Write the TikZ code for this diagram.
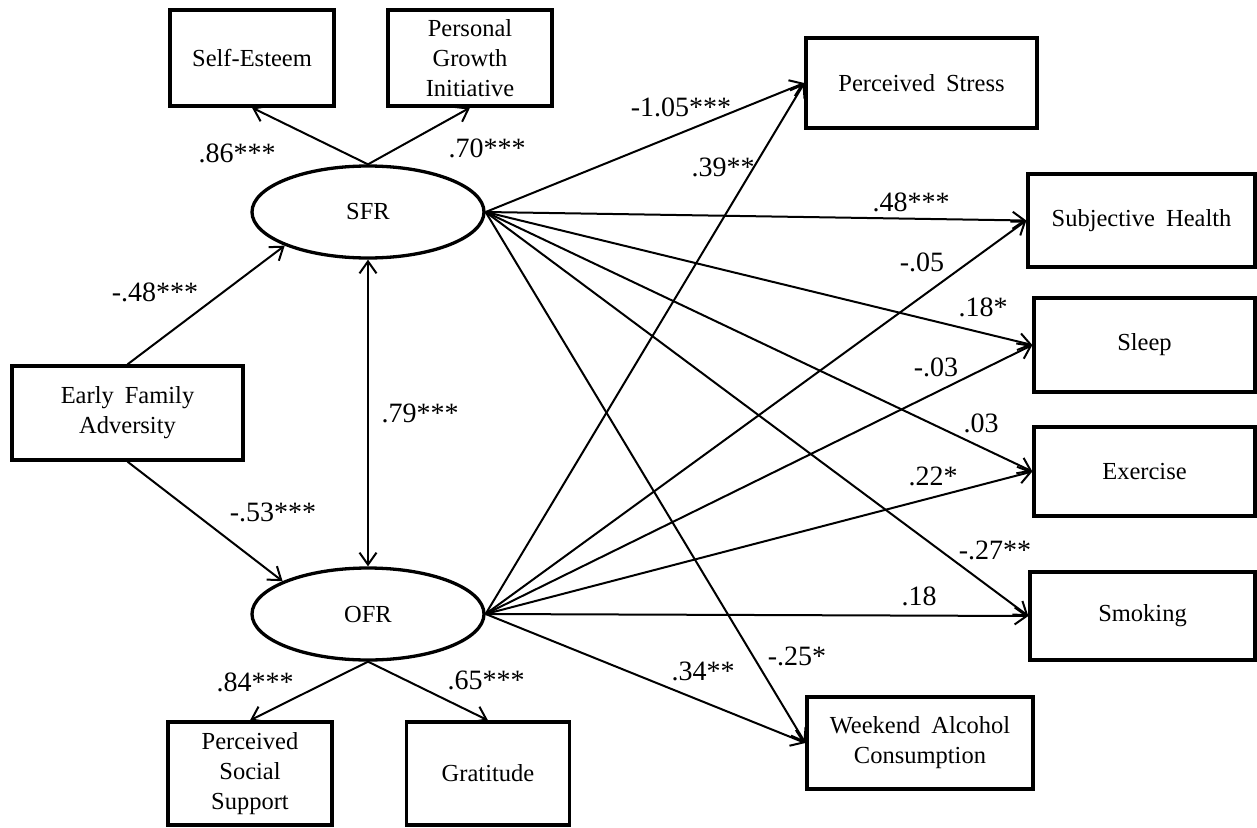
\documentclass[tikz,border=0pt]{standalone}
\usepackage{fontspec}
\setmainfont{Liberation Serif}
\usetikzlibrary{arrows.meta,shapes.geometric}
\newcommand\ws{\hspace{0.45em}}
\begin{document}
\begin{tikzpicture}[x=1pt,y=-1pt,
  box/.style={draw, line width=3.3pt, inner sep=0pt, align=center,
    font=\fontsize{24.5}{30}\selectfont},
  lat/.style={draw, ellipse, line width=3.3pt, inner sep=0pt,
    minimum width=232pt, minimum height=92pt, font=\fontsize{24.5}{30}\selectfont},
  arr/.style={line width=2pt, -{Straight Barb[length=12pt,width=17pt,line width=2pt]}},
  darr/.style={line width=2pt, {Straight Barb[length=12pt,width=17pt,line width=2pt]}-{Straight Barb[length=12pt,width=17pt,line width=2pt]}},
  coef/.style={font=\fontsize{28}{32}\selectfont, inner sep=0pt}
]
\useasboundingbox (0,0) rectangle (1257,827);

% latent variables
\node[lat] (sfr) at (368,212) {SFR};
\node[lat] (ofr) at (368,614) {OFR};

% indicators
\node[box, minimum width=164pt, minimum height=96pt] (se) at (252,58) {Self-Esteem};
\node[box, minimum width=164pt, minimum height=96pt] (pgi) at (470,58) {Personal\\Growth\\Initiative};
\node[box, minimum width=164pt, minimum height=103pt] (pss) at (250,773.5) {Perceived\\Social\\Support};
\node[box, minimum width=163pt, minimum height=103pt] (grat) at (488,773.5) {Gratitude};

% predictor
\node[box, minimum width=231pt, minimum height=94pt] (efa) at (127.5,413) {Early\ws Family\\Adversity};

% outcomes
\node[box, minimum width=231pt, minimum height=90pt] (ps) at (921.5,83) {Perceived\ws Stress};
\node[box, minimum width=227pt, minimum height=93pt] (sh) at (1141.5,220.5) {Subjective\ws Health};
\node[box, minimum width=221pt, minimum height=94pt] (sleep) at (1144.5,345) {Sleep};
\node[box, minimum width=221pt, minimum height=89pt] (ex) at (1144.5,471.5) {Exercise};
\node[box, minimum width=225pt, minimum height=88pt] (smk) at (1142.5,616) {Smoking};
\node[box, minimum width=226pt, minimum height=92pt] (wac) at (920,743) {Weekend\ws Alcohol\\Consumption};

% measurement paths
\draw[arr] (sfr.north) -- (se.south);
\draw[arr] (sfr.north) -- (pgi.south);
\draw[arr] (ofr.south) -- (pss.north);
\draw[arr] (ofr.south) -- (grat.north);

% structural paths
\draw[arr] (efa.north) -- (sfr.202);
\draw[arr] (efa.south) -- (ofr.159);
\draw[darr] (sfr.south) -- (ofr.north);

\foreach \t in {ps,sh,sleep,ex,smk,wac}{
  \draw[arr] (sfr.east) -- (\t.west);
  \draw[arr] (ofr.east) -- (\t.west);
}

% coefficients
\node[coef] (c1) at (237,153) {.86***};
\node[coef] (c2) at (487,148) {.70***};
\node[coef] (c3) at (155,292) {-.48***};
\node[coef] (c4) at (420,413) {.79***};
\node[coef] (c5) at (273,512) {-.53***};
\node[coef] (c6) at (255,682) {.84***};
\node[coef] (c7) at (486,680) {.65***};
\node[coef] (c8) at (681,107) {-1.05***};
\node[coef] (c9) at (723,167) {.39**};
\node[coef] (c10) at (911,202) {.48***};
\node[coef] (c11) at (922,262) {-.05};
\node[coef] (c12) at (983,307) {.18*};
\node[coef] (c13) at (936,367) {-.03};
\node[coef] (c14) at (981,423) {.03};
\node[coef] (c15) at (933,476) {.22*};
\node[coef] (c16) at (995,550) {-.27**};
\node[coef] (c17) at (919,596) {.18};
\node[coef] (c18) at (703,671) {.34**};
\node[coef] (c19) at (797,656) {-.25*};
\end{tikzpicture}
\end{document}
